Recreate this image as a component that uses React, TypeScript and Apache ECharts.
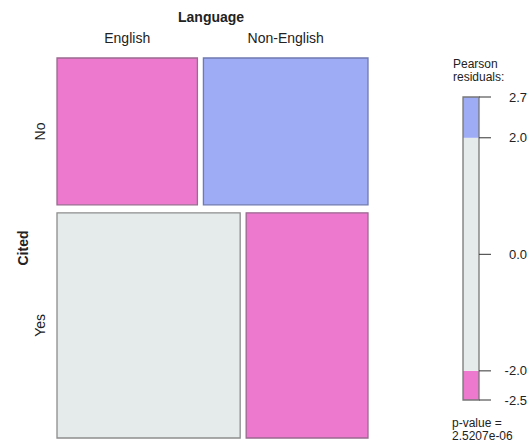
import React, { useEffect, useRef } from "react";
import * as echarts from "echarts";

// ---- data ----
const citedLevels = ["No", "Yes"];
const languageLevels = ["English", "Non-English"];
// counts[cited][language]
const counts = [
  [209, 245],
  [418, 278],
];
const legendTicks = [2.7, 2.0, 0.0, -2.0, -2.5];
const legendBands = [
  [-2.5, -2.0],
  [-2.0, 2.0],
  [2.0, 2.7],
];
const pValueText = "2.5207e-06";
const rowVarName = "Cited";
const colVarName = "Language";

const FONT = "Liberation Sans";
const PINK = "#ec79cd";
const BLUE = "#9eabf5";
const GRAY = "#e5eaea";
const shadeFill = (r: number) => (r > 2 ? BLUE : r < -2 ? PINK : GRAY);
const shadeStroke = (r: number) => (r > 2 ? "#6f7ab0" : r < -2 ? "#9a6a90" : "#8d8d8d");

export default function App() {
  const ref = useRef<HTMLDivElement>(null);
  useEffect(() => {
    document.body.style.margin = "0";
    const chart = echarts.init(ref.current!, null, { renderer: "svg" });

    const rowTotals = counts.map((r) => r[0] + r[1]);
    const colTotals = [0, 1].map((j) => counts[0][j] + counts[1][j]);
    const N = rowTotals[0] + rowTotals[1];

    const cells: any[] = [];
    let y0 = 0;
    counts.forEach((row, i) => {
      const y1 = y0 + rowTotals[i] / N;
      let x0 = 0;
      row.forEach((obs, j) => {
        const x1 = x0 + obs / rowTotals[i];
        const exp = (rowTotals[i] * colTotals[j]) / N;
        const res = (obs - exp) / Math.sqrt(exp);
        cells.push({ value: [x0, x1, y0, y1, res, i, j] });
        x0 = x1;
      });
      y0 = y1;
    });

    const COL_GAP = 6;
    const ROW_GAP = 8;

    const option: any = {
      animation: false,
      grid: [
        { left: 57, top: 58, width: 305, height: 372 },
        { left: 463, top: 97, width: 16, height: 303 },
      ],
      xAxis: [
        { type: "value", gridIndex: 0, min: 0, max: 1, show: false },
        { type: "value", gridIndex: 1, min: 0, max: 1, show: false },
      ],
      yAxis: [
        { type: "value", gridIndex: 0, min: 0, max: 1, inverse: true, show: false },
        {
          type: "value",
          gridIndex: 1,
          min: -2.5,
          max: 2.7,
          position: "right",
          axisLine: { show: false },
          splitLine: { show: false },
          axisTick: { show: false },
          axisLabel: {
            customValues: legendTicks,
            formatter: (v: number) => v.toFixed(1),
            align: "right",
            margin: 48,
            fontFamily: FONT,
            fontSize: 13,
            color: "#222",
          },
        },
      ],
      series: [
        {
          type: "custom",
          xAxisIndex: 0,
          yAxisIndex: 0,
          clip: false,
          data: cells,
          renderItem: (params: any, api: any) => {
            const x0v = api.value(0), x1v = api.value(1);
            const y0v = api.value(2), y1v = api.value(3);
            const res = api.value(4);
            const i = api.value(5), j = api.value(6);
            const p0 = api.coord([x0v, y0v]);
            const p1 = api.coord([x1v, y1v]);
            const x = p0[0] + j * COL_GAP;
            const y = p0[1] + i * ROW_GAP;
            const w = p1[0] - p0[0];
            const h = p1[1] - p0[1];
            const children: any[] = [
              {
                type: "rect",
                shape: { x, y, width: w, height: h },
                style: { fill: shadeFill(res), stroke: shadeStroke(res), lineWidth: 1.3 },
              },
            ];
            if (i === 0) {
              children.push({
                type: "text",
                x: x + w / 2,
                y: y - 20,
                style: {
                  text: languageLevels[j],
                  fontFamily: FONT,
                  fontSize: 14,
                  fill: "#222",
                  align: "center",
                  verticalAlign: "middle",
                },
              });
            }
            if (j === 0) {
              children.push({
                type: "text",
                x: x - 17,
                y: y + h / 2,
                rotation: Math.PI / 2,
                style: {
                  text: citedLevels[i],
                  fontFamily: FONT,
                  fontSize: 14,
                  fill: "#222",
                  align: "center",
                  verticalAlign: "middle",
                },
              });
            }
            return { type: "group", children };
          },
        },
        {
          type: "custom",
          xAxisIndex: 1,
          yAxisIndex: 1,
          clip: false,
          data: [
            ...legendBands.map((b) => ({ value: [b[0], b[1], 0] })),
            { value: [legendBands[0][0], legendBands[legendBands.length - 1][1], 1] },
          ],
          renderItem: (params: any, api: any) => {
            const lo = api.value(0), hi = api.value(1), outline = api.value(2);
            const p0 = api.coord([0, hi]);
            const p1 = api.coord([1, lo]);
            const mid = (lo + hi) / 2;
            return {
              type: "rect",
              shape: { x: p0[0], y: p0[1], width: p1[0] - p0[0], height: p1[1] - p0[1] },
              style: outline
                ? { fill: "none", stroke: "#777", lineWidth: 1.3 }
                : { fill: shadeFill(mid > 2 ? 3 : mid < -2 ? -3 : 0) },
            };
          },
        },
        {
          type: "custom",
          xAxisIndex: 1,
          yAxisIndex: 1,
          clip: false,
          data: legendTicks.map((t) => ({ value: [1, t] })),
          renderItem: (params: any, api: any) => {
            const p = api.coord([api.value(0), api.value(1)]);
            return {
              type: "line",
              shape: { x1: p[0], y1: p[1], x2: p[0] + 12, y2: p[1] },
              style: { stroke: "#333", lineWidth: 1 },
            };
          },
        },
      ],
      graphic: [
        {
          type: "text",
          left: 178,
          top: 10,
          style: { text: colVarName, fontFamily: FONT, fontSize: 14, fontWeight: "bold", fill: "#222" },
        },
        {
          type: "text",
          x: 23,
          y: 248,
          rotation: Math.PI / 2,
          style: {
            text: rowVarName,
            fontFamily: FONT,
            fontSize: 14,
            fontWeight: "bold",
            fill: "#222",
            align: "center",
            verticalAlign: "middle",
          },
        },
        {
          type: "text",
          left: 453,
          top: 57,
          style: {
            text: "Pearson\nresiduals:",
            fontFamily: FONT,
            fontSize: 12,
            lineHeight: 13,
            fill: "#222",
          },
        },
        {
          type: "text",
          left: 452,
          top: 416,
          style: {
            text: "p-value =\n" + pValueText,
            fontFamily: FONT,
            fontSize: 12,
            lineHeight: 13,
            fill: "#222",
          },
        },
      ],
    };
    chart.setOption(option);
    return () => chart.dispose();
  }, []);
  return <div ref={ref} style={{ width: 530, height: 447 }} />;
}
